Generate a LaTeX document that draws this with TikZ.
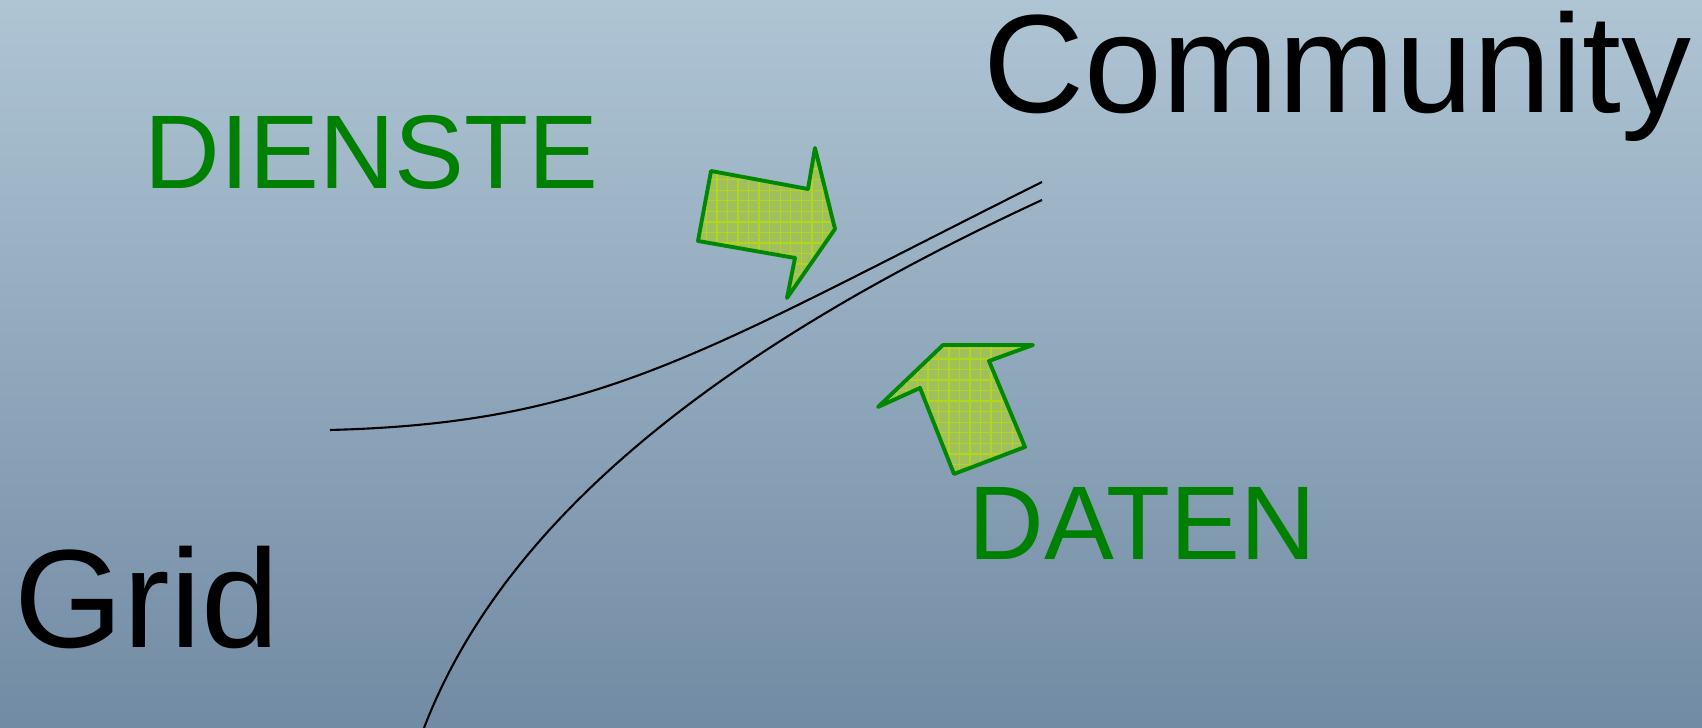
\documentclass[tikz,border=0pt]{standalone}
\usepackage{fontspec}
\setmainfont{Liberation Sans}
\usepackage{tikz}
\usepackage{tkz-euclide}
\usetikzlibrary{calc}
\usetikzlibrary{patterns}

\definecolor{skytop}{RGB}{175,197,212}
\definecolor{skybottom}{RGB}{113,139,164}
\definecolor{arrowgreen}{RGB}{0,136,0}
\definecolor{arrowfill}{RGB}{160,192,96}
\definecolor{arrowgrid}{RGB}{178,214,24}
\definecolor{labelgreen}{RGB}{0,128,0}

\begin{document}
\begin{tikzpicture}[%
  bigword/.style={anchor=base west,inner sep=0pt,
    font=\fontsize{39.8}{40}\selectfont},
  greenword/.style={anchor=base west,inner sep=0pt,text=labelgreen,
    font=\fontsize{29.8}{30}\selectfont}
]

  \shade[top color=skytop,bottom color=skybottom] (0,0) rectangle (17.02,7.28);
  \useasboundingbox (0,0) rectangle (17.02,7.28);

  % border lines
  \tkzDefPoint(3.30, 2.98){s}
  \tkzDefPoint(6.00, 3.05){sa}
  \tkzDefPoint(7.00, 3.75){sb}
  \tkzDefPoint(10.42, 5.46){t}
  \tkzDefPoint(4.24, 0.00){u}
  \tkzDefPoint(5.00, 1.98){ua}
  \tkzDefPoint(7.00, 3.70){ub}
  \tkzDefPoint(10.42, 5.28){v}

  \draw[line width=0.6pt] (s) .. controls (sa) and (sb) .. (t);
  \draw[line width=0.6pt] (u) .. controls (ua) and (ub) .. (v);

  % services arrow
  \tkzDefPoint(7.11, 5.57){A}
  \tkzDefPoint(8.08, 5.39){B}
  \tkzDefPoint(8.15, 5.80){C}
  \tkzDefPoint(8.35, 4.99){D}
  \tkzDefPoint(7.87, 4.30){E}
  \tkzDefPoint(7.95, 4.70){F}
  \tkzDefPoint(6.98, 4.87){G}

  \tkzFillPolygon[color=arrowfill](A,B,C,D,E,F,G)
  \tkzFillPolygon[pattern=grid,pattern color=arrowgrid](A,B,C,D,E,F,G)
  \tkzDrawPolygon[color=arrowgreen,line width=1.1pt](A,B,C,D,E,F,G)

  % data arrow
  \tkzDefPoint(9.43, 3.83){H}
  \tkzDefPoint(10.33, 3.83){I}
  \tkzDefPoint(9.89, 3.67){J}
  \tkzDefPoint(10.25, 2.81){K}
  \tkzDefPoint(9.54, 2.54){L}
  \tkzDefPoint(9.20, 3.40){M}
  \tkzDefPoint(8.78, 3.21){N}

  \tkzFillPolygon[color=arrowfill](H,I,J,K,L,M,N)
  \tkzFillPolygon[pattern=grid,pattern color=arrowgrid](H,I,J,K,L,M,N)
  \tkzDrawPolygon[color=arrowgreen,line width=1.1pt](H,I,J,K,L,M,N)

  \node[bigword] (community) at (9.83, 6.15) {Community};
  \node[bigword] (grid) at (0.14, 0.80) {Grid};
  \node[greenword] (dienste) at (1.44, 5.39) {DIENSTE};
  \node[greenword] (daten) at (9.68, 1.68) {DATEN};

\end{tikzpicture}
\end{document}
